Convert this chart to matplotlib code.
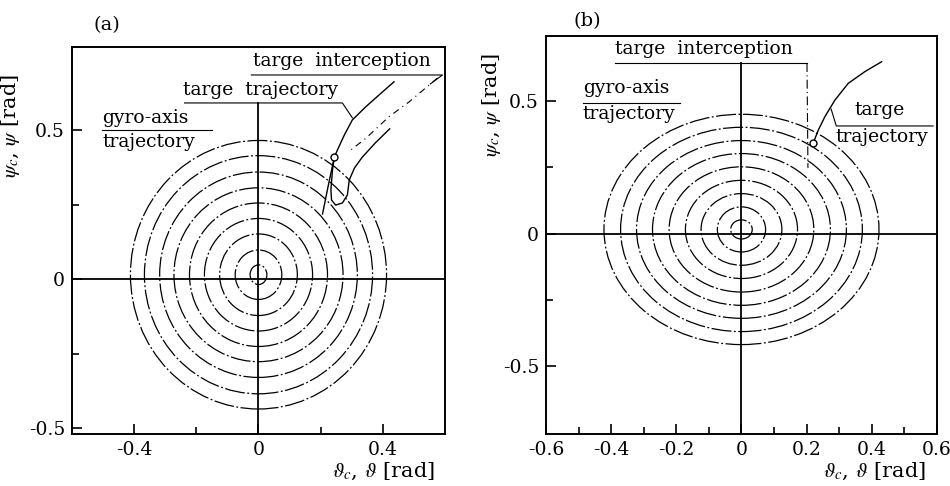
import matplotlib
matplotlib.use('Agg')
import matplotlib.pyplot as plt
from matplotlib.patches import Ellipse

plt.rcParams['font.family'] = ['DejaVu Serif']
plt.rcParams['mathtext.fontset'] = 'stix'
plt.rcParams['axes.unicode_minus'] = False

# gyro-axis spiral rings (half widths / half heights), panel (a)
rings_a_rx = [0.027, 0.075, 0.125, 0.174, 0.222, 0.272, 0.318, 0.367, 0.412]
rings_a_ry = [0.033, 0.083, 0.137, 0.189, 0.241, 0.292, 0.345, 0.400, 0.451]
ring_a_yc = 0.015

# target trajectory, panel (a)
target_a_x = [0.436, 0.388, 0.345, 0.302, 0.276, 0.254, 0.244, 0.225, 0.206]
target_a_y = [0.663, 0.619, 0.579, 0.535, 0.484, 0.434, 0.410, 0.317, 0.219]
# gyro-axis after interception, panel (a)
gyro_a_x = [0.244, 0.238, 0.233, 0.235, 0.248, 0.270, 0.286, 0.292, 0.309, 0.334, 0.376, 0.422]
gyro_a_y = [0.410, 0.367, 0.300, 0.266, 0.249, 0.256, 0.283, 0.333, 0.374, 0.410, 0.458, 0.505]
# dash-dot curve, panel (a)
dash_a_x = [0.576, 0.485, 0.420, 0.345, 0.297]
dash_a_y = [0.676, 0.596, 0.546, 0.473, 0.434]
intercept_a = (0.244, 0.410)

# panel (b)
rings_b_rx = [0.033, 0.074, 0.124, 0.172, 0.222, 0.273, 0.322, 0.371, 0.422]
rings_b_ry = [0.036, 0.085, 0.135, 0.185, 0.236, 0.286, 0.335, 0.385, 0.434]
ring_b_yc = 0.016

target_b_x = [0.220, 0.236, 0.256, 0.287, 0.328, 0.379, 0.430]
target_b_y = [0.341, 0.391, 0.441, 0.504, 0.567, 0.611, 0.648]
intercept_b = (0.220, 0.341)

ring_ls = (0, (16, 2, 1.5, 2))

fig = plt.figure(figsize=(9.5, 4.86), dpi=100)
ax1 = fig.add_axes([0.0758, 0.107, 0.3926, 0.7963])
ax2 = fig.add_axes([0.5747, 0.107, 0.4116, 0.8189])


def style(ax, xmaj, xmin, ymaj, ymin, xlim, ylim):
    ax.set_xlim(*xlim)
    ax.set_ylim(*ylim)
    ax.set_xticks(xmaj)
    ax.set_xticks(xmin, minor=True)
    ax.set_yticks(ymaj)
    ax.set_yticks(ymin, minor=True)
    ax.set_xticklabels(['0' if v == 0 else f'{v:g}' for v in xmaj])
    ax.set_yticklabels(['0' if v == 0 else f'{v:g}' for v in ymaj])
    ax.tick_params(which='both', direction='in', labelsize=13.5, top=False, right=False)
    ax.tick_params(which='major', length=7, width=1.2, pad=5)
    ax.tick_params(which='minor', length=5, width=1.2)
    for s in ax.spines.values():
        s.set_linewidth(1.4)


# ---- panel (a)
style(ax1, [-0.4, 0, 0.4], [-0.2, 0.2], [-0.5, 0, 0.5], [-0.25, 0.25],
      (-0.6, 0.6), (-0.52, 0.78))
ax1.axhline(0, color='black', lw=1.3)
ax1.plot([0, 0], [-0.52, 0.592], color='black', lw=1.3)
for rx, ry in zip(rings_a_rx, rings_a_ry):
    ax1.add_patch(Ellipse((0, ring_a_yc), 2 * rx, 2 * ry, fill=False,
                          ec='black', lw=0.9, ls=ring_ls))
ax1.plot(target_a_x, target_a_y, color='black', lw=1.0)
ax1.plot(gyro_a_x, gyro_a_y, color='black', lw=1.0)
ax1.plot(dash_a_x, dash_a_y, color='black', lw=0.8, ls=(0, (6, 4, 1, 4)))
ax1.plot(*intercept_a, 'o', ms=5, mfc='white', mec='black', mew=1.0)

ax1.text(-0.019, 0.733, 'targe  interception', fontsize=13.5, va='center')
ax1.plot([-0.023, 0.592, 0.553], [0.686, 0.686, 0.656], color='black', lw=0.8, clip_on=False)
ax1.text(-0.244, 0.636, 'targe  trajectory', fontsize=13.5, va='center')
ax1.plot([-0.238, 0.270, 0.302], [0.592, 0.592, 0.542], color='black', lw=0.8)
ax1.text(-0.502, 0.543, 'gyro-axis', fontsize=13.5, va='center')
ax1.plot([-0.502, -0.148], [0.501, 0.501], color='black', lw=0.8)
ax1.text(-0.502, 0.461, 'trajectory', fontsize=13.5, va='center')

ax1.set_ylabel(r'$\psi_c$, $\psi$ [rad]', fontsize=15)
ax1.yaxis.set_label_coords(-0.134, 0.796)
ax1.set_xlabel(r'$\vartheta_c$, $\vartheta$ [rad]', fontsize=15)
ax1.xaxis.set_label_coords(0.834, -0.070)
fig.text(0.1126, 0.9486, '(a)', fontsize=14, ha='center', va='center')

# ---- panel (b)
style(ax2, [-0.6, -0.4, -0.2, 0, 0.2, 0.4, 0.6], [-0.5, -0.3, -0.1, 0.1, 0.3, 0.5],
      [-0.5, 0, 0.5], [-0.25, 0.25], (-0.6, 0.6), (-0.755, 0.745))
ax2.axhline(0, color='black', lw=1.3)
ax2.plot([0, 0], [-0.755, 0.643], color='black', lw=1.3)
for rx, ry in zip(rings_b_rx, rings_b_ry):
    ax2.add_patch(Ellipse((0, ring_b_yc), 2 * rx, 2 * ry, fill=False,
                          ec='black', lw=0.9, ls=ring_ls))
ax2.plot(target_b_x, target_b_y, color='black', lw=1.0)
ax2.plot(*intercept_b, 'o', ms=5, mfc='white', mec='black', mew=1.0)

ax2.text(-0.388, 0.696, 'targe  interception', fontsize=13.5, va='center')
ax2.plot([-0.388, 0.201], [0.643, 0.643], color='black', lw=0.8)
ax2.plot([0.201, 0.204], [0.643, 0.248], color='black', lw=0.8, ls=(0, (8, 3, 1, 3)))
ax2.text(-0.487, 0.549, 'gyro-axis', fontsize=13.5, va='center')
ax2.plot([-0.487, -0.189], [0.493, 0.493], color='black', lw=0.8)
ax2.text(-0.487, 0.451, 'trajectory', fontsize=13.5, va='center')
ax2.text(0.348, 0.466, 'targe', fontsize=13.5, va='center')
ax2.plot([0.275, 0.291, 0.588], [0.470, 0.406, 0.406], color='black', lw=0.8)
ax2.text(0.287, 0.364, 'trajectory', fontsize=13.5, va='center')

ax2.set_ylabel(r'$\psi_c$, $\psi$ [rad]', fontsize=15)
ax2.yaxis.set_label_coords(-0.11, 0.827)
ax2.set_xlabel(r'$\vartheta_c$, $\vartheta$ [rad]', fontsize=15)
ax2.xaxis.set_label_coords(0.841, -0.068)
fig.text(0.618, 0.957, '(b)', fontsize=14, ha='center', va='center')

fig.savefig('out.png', dpi=100)
